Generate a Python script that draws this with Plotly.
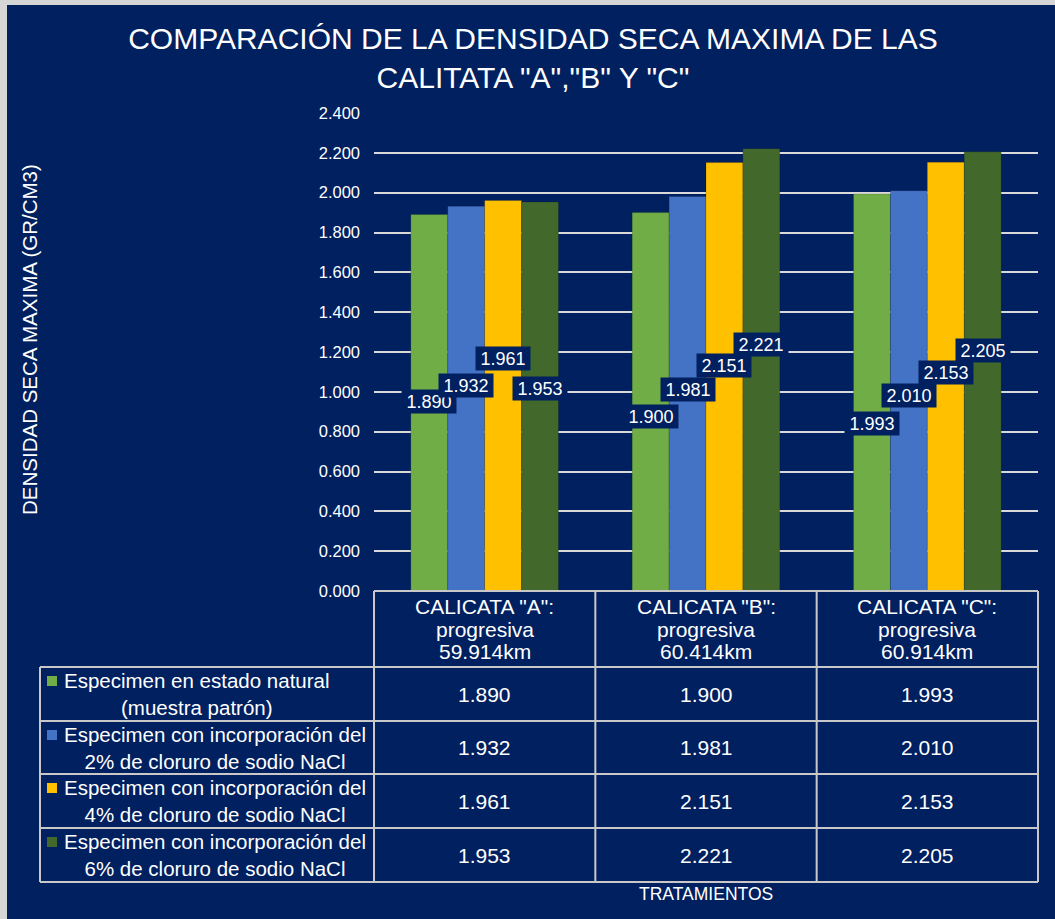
import plotly.graph_objects as go

# ---------------- data ----------------
categories = ['CALICATA "A":<br>progresiva<br>59.914km',
              'CALICATA "B":<br>progresiva<br>60.414km',
              'CALICATA "C":<br>progresiva<br>60.914km']
series_names = ["Especimen en estado natural<br>(muestra patrón)",
                "Especimen con incorporación del<br>2% de cloruro de sodio NaCl",
                "Especimen con incorporación del<br>4% de cloruro de sodio NaCl",
                "Especimen con incorporación del<br>6% de cloruro de sodio NaCl"]
natural = [1.890, 1.900, 1.993]
nacl_2 = [1.932, 1.981, 2.010]
nacl_4 = [1.961, 2.151, 2.153]
nacl_6 = [1.953, 2.221, 2.205]
series_values = [natural, nacl_2, nacl_4, nacl_6]

# label heights (data units) as placed in the original chart
label_y = [[0.949, 0.876, 0.841],
           [1.034, 1.014, 0.984],
           [1.167, 1.132, 1.095],
           [1.017, 1.240, 1.207]]

colors = ["#70AD47", "#4472C4", "#FFC000", "#43682B"]
navy = "#002060"
grid = "#D9D9D9"
line_c = "#C8C8C8"
FONT = "Liberation Sans, Arial, sans-serif"

# page: figure placed at (OX, OY) inside a 1055x919 window
OX, OY = 7, 5
W, H = 1055 - OX, 919 - OY
def px(x):
    return (x - OX) / W
def py(y):
    return 1 - (y - OY) / H

# plot area frame (window pixels)
X0, X1, Y0, Y1 = 374, 1038, 113, 591

fig = go.Figure()
xs = list(range(len(categories)))
for name, vals, col in zip(series_names, series_values, colors):
    fig.add_trace(go.Bar(x=xs, y=vals, name=name.replace("<br>", " "),
                         marker=dict(color=col, line=dict(width=0.6, color="rgba(0,0,0,0.25)")),
                         showlegend=False))

annotations = []
nser = len(series_values)
bw = (1 - 0.333) / nser
for s, vals in enumerate(series_values):
    off = -((nser - 1) / 2) * bw + s * bw
    for i, v in enumerate(vals):
        annotations.append(dict(x=i + off, y=label_y[s][i], xref="x", yref="y",
                                text=f"{v:.3f}", showarrow=False,
                                font=dict(color="white", size=18, family=FONT),
                                bgcolor=navy, width=54, height=23, borderpad=0))

# table header (category labels), one line at a time
hdr_c = (Y1 + 667) / 2
for i, c in enumerate(categories):
    lines = c.split("<br>")
    for k, ln in enumerate(lines):
        annotations.append(dict(x=i, y=py(hdr_c + (k - (len(lines) - 1) / 2) * 22.5),
                                xref="x", yref="paper", text=ln, showarrow=False,
                                xanchor="center", yanchor="middle",
                                font=dict(color="white", size=21, family=FONT)))

row_edges = [667, 721, 774, 828, 882]
shapes = []
for s in range(nser):
    top, bot = row_edges[s], row_edges[s + 1]
    cy = (top + bot) / 2
    shapes.append(dict(type="rect", xref="paper", yref="paper",
                       x0=px(47), x1=px(57), y0=py(top + 9), y1=py(top + 19),
                       fillcolor=colors[s], line=dict(width=0)))
    annotations.append(dict(x=px(62), y=py(cy), xref="paper", yref="paper",
                            xanchor="left", yanchor="middle", align="center",
                            text=series_names[s], showarrow=False,
                            font=dict(color="white", size=20.5, family=FONT)))
    for i, v in enumerate(series_values[s]):
        annotations.append(dict(x=i, y=py(cy), xref="x", yref="paper",
                                xanchor="center", yanchor="middle",
                                text=f"{v:.3f}", showarrow=False,
                                font=dict(color="white", size=21, family=FONT)))

# table grid lines
def hline(y, xa, xb):
    shapes.append(dict(type="line", xref="paper", yref="paper", x0=px(xa), x1=px(xb),
                       y0=py(y), y1=py(y), line=dict(color=line_c, width=2)))
def vline(x, ya, yb):
    shapes.append(dict(type="line", xref="paper", yref="paper", x0=px(x), x1=px(x),
                       y0=py(ya), y1=py(yb), line=dict(color=line_c, width=2)))

hline(Y1, X0, X1)
for y in row_edges:
    hline(y, 40, X1)
vline(40, row_edges[0], row_edges[-1])
colw = (X1 - X0) / len(categories)
for k in range(len(categories) + 1):
    vline(X0 + k * colw, Y1, row_edges[-1])

annotations.append(dict(x=px(706), y=py(894), xref="paper", yref="paper",
                        xanchor="center", yanchor="middle",
                        text="TRATAMIENTOS", showarrow=False,
                        font=dict(color="white", size=17.5, family=FONT)))
annotations.append(dict(x=px(29), y=py(340), xref="paper", yref="paper",
                        xanchor="center", yanchor="middle",
                        text="DENSIDAD SECA MAXIMA (GR/CM3)", textangle=-90, showarrow=False,
                        font=dict(color="white", size=20.5, family=FONT)))

fig.update_layout(
    width=W, height=H, autosize=False,
    margin=dict(l=0, r=0, t=0, b=0, pad=0),
    paper_bgcolor=navy, plot_bgcolor="rgba(0,0,0,0)",
    barmode="group", bargap=0.333, bargroupgap=0,
    font=dict(family=FONT, color="white"),
    title=dict(text='COMPARACIÓN DE LA DENSIDAD SECA MAXIMA DE LAS<br>CALITATA "A","B" Y "C"',
               x=px(533), xanchor="center", y=py(49), yanchor="middle",
               font=dict(size=30, color="white", family=FONT)),
    xaxis=dict(domain=[px(X0), px(X1)], range=[-0.5, len(categories) - 0.5],
               showticklabels=False, showgrid=False, zeroline=False, showline=False,
               automargin=False),
    yaxis=dict(domain=[py(Y1), py(Y0)], range=[0, 2.4], dtick=0.2, tickformat=".3f",
               showgrid=True, gridcolor=grid, gridwidth=1.5, zeroline=False, showline=False,
               automargin=False,
               ticklabelstandoff=13, tickfont=dict(size=16.5, color="white", family=FONT)),
    annotations=annotations, shapes=shapes,
)

post = ("document.body.style.margin='%dpx 0 0 %dpx';"
        "document.body.style.overflow='hidden';"
        "document.body.style.background='#D6D6D6';") % (OY, OX)
fig.write_html("out.html", post_script=post)
